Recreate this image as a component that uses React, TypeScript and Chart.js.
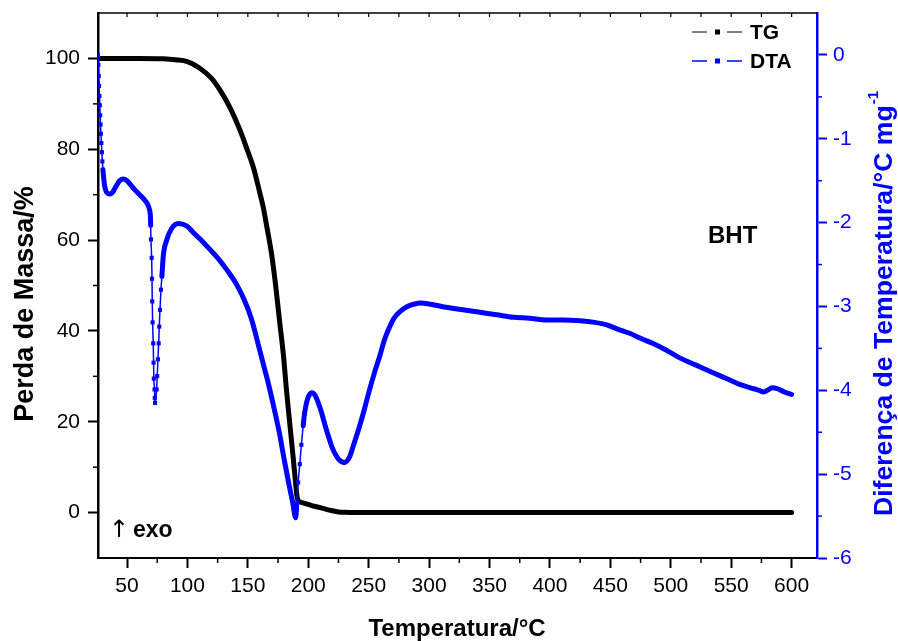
import React, { useEffect, useRef } from "react";
import { Chart, registerables } from "chart.js";

Chart.register(...registerables);

const FONT = '"Liberation Sans", Arial, Helvetica, sans-serif';
const BLUE = "#0000ff";
const BLACK = "#000000";

// TG curve: temperature (°C) and remaining mass (%)
const tgTemperature = [
  26, 40, 60, 80, 90, 100, 110, 120, 127, 135, 143.5, 150, 154.5, 160, 162.7, 166,
  169.6, 173, 176.5, 179.5, 182, 185, 187.5, 189.5, 190.8, 191.5, 195, 200, 205,
  209.6, 215, 220, 225, 230, 240, 300, 400, 500, 600,
];
const tgMass = [
  100, 100, 100, 99.9, 99.7, 99.3, 97.9, 95.6, 93, 89.3, 84.2, 79.5, 76.1, 70.3, 67.3,
  62.5, 57, 50, 41.6, 34.5, 26.9, 18.8, 12.2, 6.5, 3.4, 2.7, 2.2, 1.8, 1.4, 1.1, 0.7,
  0.4, 0.15, 0.05, 0, 0, 0, 0, 0,
];

// DTA curve: temperature (°C) and temperature difference (°C mg-1)
const dtaTemperature = [
  26, 26.3, 26.6, 26.9, 27.2, 27.5, 27.8, 28.1, 28.4, 28.8, 29.2, 29.6, 30.1, 30.7,
  31.5, 32.5, 34, 36, 38, 40, 42, 44, 47, 50, 53, 56, 60, 64, 67, 68.5, 69.3, 69.6,
  69.8, 70.4, 70.7, 70.9, 71.2, 71.7, 72.0, 72.2, 72.8, 73.0, 73.2, 74.5, 75.0, 75.6,
  76.2, 76.7, 77.3, 78.1, 78.9, 80.0, 82.8, 86.9, 92.4, 99.3, 105, 110, 118, 125, 133,
  140, 147, 153, 158, 163, 167, 171, 176, 180, 184, 187, 189.6, 190.5, 191.6, 193,
  194.3, 195.8, 197, 199.5, 203, 206, 210, 215, 220, 225, 230, 234, 238, 242, 246,
  250, 255, 259, 263, 267.5, 271, 276, 282, 288, 293, 300, 314, 328, 342, 356, 370,
  383, 397, 411, 425, 437, 447, 456, 466, 475, 485, 496, 507, 521, 535, 546, 557,
  566, 573, 577, 580, 584, 588, 594, 600,
];
const dtaSignal = [
  0.0, -0.12, -0.25, -0.37, -0.49, -0.6, -0.72, -0.83, -0.94, -1.05, -1.16, -1.27,
  -1.37, -1.47, -1.56, -1.62, -1.65, -1.66, -1.64, -1.59, -1.54, -1.5, -1.48, -1.5,
  -1.55, -1.6, -1.66, -1.72, -1.78, -1.84, -1.91, -2.03, -2.2, -2.42, -2.67, -2.94,
  -3.19, -3.44, -3.67, -3.86, -3.99, -4.09, -4.15, -3.99, -3.83, -3.63, -3.44, -3.24,
  -3.04, -2.8, -2.64, -2.4, -2.21, -2.07, -2.01, -2.04, -2.12, -2.19, -2.31, -2.42,
  -2.57, -2.72, -2.92, -3.15, -3.42, -3.7, -3.92, -4.17, -4.5, -4.82, -5.12, -5.33,
  -5.52, -5.35, -5.1, -4.88, -4.65, -4.42, -4.27, -4.1, -4.03, -4.07, -4.22, -4.47,
  -4.69, -4.82, -4.86, -4.8, -4.63, -4.45, -4.25, -4.03, -3.78, -3.6, -3.4, -3.24,
  -3.14, -3.06, -3.0, -2.97, -2.96, -2.97, -3.01, -3.04, -3.07, -3.1, -3.13, -3.14,
  -3.16, -3.16, -3.17, -3.19, -3.22, -3.27, -3.32, -3.38, -3.44, -3.52, -3.61, -3.7,
  -3.79, -3.86, -3.93, -3.97, -4.0, -4.02, -4.0, -3.97, -3.98, -4.02, -4.05,
];

// Axis ticks
const temperatureTicks = [50, 100, 150, 200, 250, 300, 350, 400, 450, 500, 550, 600];
const massTicks = [0, 20, 40, 60, 80, 100];
const dtaTicks = [-6, -5, -4, -3, -2, -1, 0];

// Temperature spans where the recorded DTA points are far apart
const dtaSparseSpans = [
  [26, 30.2],
  [69.5, 79],
  [190, 196],
];
const isSparse = (t: number) => dtaSparseSpans.some(([a, b]) => t >= a && t <= b);

const decorations = {
  id: "decorations",
  afterDraw(chart: any) {
    const { ctx, chartArea: a, scales } = chart;
    const sx = scales.x;
    const sy = scales.y;
    const sy1 = scales.y1;
    const seg = (x1: number, y1: number, x2: number, y2: number) => {
      ctx.beginPath();
      ctx.moveTo(x1, y1);
      ctx.lineTo(x2, y2);
      ctx.stroke();
    };
    ctx.save();

    // top frame with inward ticks
    ctx.strokeStyle = BLACK;
    ctx.lineWidth = 1.5;
    seg(a.left, a.top, a.right, a.top);
    ctx.lineWidth = 1.2;
    for (let v = 50; v <= 600; v += 25) {
      const px = sx.getPixelForValue(v);
      seg(px, a.top, px, a.top + 4);
    }
    // minor ticks on bottom and left
    ctx.lineWidth = 1.5;
    for (let v = 75; v < 600; v += 50) {
      const px = sx.getPixelForValue(v);
      seg(px, a.bottom, px, a.bottom + 5);
    }
    for (let v = 10; v <= 90; v += 20) {
      const py = sy.getPixelForValue(v);
      seg(a.left - 5, py, a.left, py);
    }
    // minor ticks on right (blue) axis
    ctx.strokeStyle = BLUE;
    for (let v = -5.5; v <= -0.5; v += 1) {
      const py = sy1.getPixelForValue(v);
      seg(a.right, py, a.right + 5, py);
    }

    // axis titles
    ctx.fillStyle = BLACK;
    ctx.font = `bold 24px ${FONT}`;
    ctx.textAlign = "center";
    ctx.textBaseline = "alphabetic";
    ctx.fillText("Temperatura/°C", 457, 636);

    ctx.save();
    ctx.translate(33, 304);
    ctx.rotate(-Math.PI / 2);
    ctx.font = `bold 27px ${FONT}`;
    ctx.textAlign = "center";
    ctx.fillText("Perda de Massa/%", 0, 0);
    ctx.restore();

    ctx.save();
    ctx.translate(892, 516);
    ctx.rotate(-Math.PI / 2);
    ctx.fillStyle = BLUE;
    ctx.font = `bold 26.6px ${FONT}`;
    ctx.textAlign = "left";
    const main = "Diferença de Temperatura/°C mg";
    ctx.fillText(main, 0, 0);
    const w = ctx.measureText(main).width;
    ctx.font = `bold 15px ${FONT}`;
    ctx.fillText("-1", w + 1, -14);
    ctx.restore();

    // legend
    const legendRow = (y: number, color: string, lw: number, label: string) => {
      ctx.strokeStyle = color;
      ctx.fillStyle = color;
      ctx.lineWidth = lw;
      seg(692, y, 707, y);
      seg(727, y, 742, y);
      ctx.fillRect(715, y - 2.5, 5, 5);
      ctx.fillStyle = BLACK;
      ctx.font = `bold 21px ${FONT}`;
      ctx.textAlign = "left";
      ctx.textBaseline = "middle";
      ctx.fillText(label, 750, y + 1);
    };
    legendRow(32, BLACK, 1, "TG");
    legendRow(61, BLUE, 1.5, "DTA");

    // annotations
    ctx.textBaseline = "alphabetic";
    ctx.textAlign = "left";
    ctx.fillStyle = BLACK;
    ctx.font = `bold 24px ${FONT}`;
    ctx.fillText("BHT", 708, 243);
    ctx.font = `24px "DejaVu Sans", ${FONT}`;
    ctx.fillText("↑", 109, 537);
    ctx.font = `bold 23px ${FONT}`;
    ctx.fillText("exo", 133, 537);

    ctx.restore();
  },
};

export default function App() {
  const canvasRef = useRef<HTMLCanvasElement | null>(null);

  useEffect(() => {
    const canvas = canvasRef.current;
    if (!canvas) return;

    const tgPoints = tgTemperature.map((t, i) => ({ x: t, y: tgMass[i] }));
    const dtaPoints = dtaTemperature.map((t, i) => ({ x: t, y: dtaSignal[i] }));

    const tickFont = { family: FONT, size: 21 };
    const noPad = (s: any) => {
      s.paddingTop = 0;
      s.paddingBottom = 0;
      s.paddingLeft = 0;
      s.paddingRight = 0;
    };

    const chart = new Chart(canvas, {
      type: "line",
      data: {
        datasets: [
          {
            label: "DTA",
            data: dtaPoints,
            yAxisID: "y1",
            order: 0,
            borderColor: BLUE,
            backgroundColor: BLUE,
            borderWidth: 5,
            borderJoinStyle: "round",
            borderCapStyle: "round",
            cubicInterpolationMode: "monotone",
            pointStyle: "rect",
            pointBorderWidth: 0,
            pointBackgroundColor: BLUE,
            pointRadius: (c: any) =>
              c.type === "data" && isSparse(dtaTemperature[c.dataIndex]) ? 2.9 : 0,
            segment: {
              borderWidth: (c: any) =>
                isSparse(dtaTemperature[c.p0DataIndex]) &&
                isSparse(dtaTemperature[c.p1DataIndex])
                  ? 1.5
                  : 5,
            },
          } as any,
          {
            label: "TG",
            data: tgPoints,
            yAxisID: "y",
            order: 1,
            borderColor: BLACK,
            backgroundColor: BLACK,
            borderWidth: 5,
            borderJoinStyle: "round",
            borderCapStyle: "round",
            cubicInterpolationMode: "monotone",
            pointRadius: 0,
          } as any,
        ],
      },
      options: {
        responsive: false,
        maintainAspectRatio: false,
        animation: false,
        layout: { padding: { top: 13, left: 0, right: 0, bottom: 0 } },
        plugins: {
          legend: { display: false },
          tooltip: { enabled: false },
          title: { display: false },
        },
        scales: {
          x: {
            type: "linear",
            position: "bottom",
            min: 26,
            max: 621,
            afterBuildTicks: (s: any) => {
              s.ticks = temperatureTicks.map((v) => ({ value: v }));
            },
            afterFit: (s: any) => {
              s.height = 83;
              noPad(s);
            },
            ticks: {
              autoSkip: false,
              maxRotation: 0,
              color: BLACK,
              font: tickFont,
              padding: 6,
            },
            grid: {
              display: true,
              drawOnChartArea: false,
              drawTicks: true,
              tickLength: 10,
              tickWidth: 2,
              tickColor: BLACK,
              color: BLACK,
            },
            border: { display: true, color: BLACK, width: 2 },
          },
          y: {
            type: "linear",
            position: "left",
            min: -10,
            max: 110,
            afterBuildTicks: (s: any) => {
              s.ticks = massTicks.map((v) => ({ value: v }));
            },
            afterFit: (s: any) => {
              s.width = 98;
              noPad(s);
            },
            ticks: { color: BLACK, font: tickFont, padding: 8 },
            grid: {
              display: true,
              drawOnChartArea: false,
              drawTicks: true,
              tickLength: 10,
              tickWidth: 2,
              tickColor: BLACK,
              color: BLACK,
            },
            border: { display: true, color: BLACK, width: 2.5 },
          },
          y1: {
            type: "linear",
            position: "right",
            min: -6,
            max: 0.5,
            afterBuildTicks: (s: any) => {
              s.ticks = dtaTicks.map((v) => ({ value: v }));
            },
            afterFit: (s: any) => {
              s.width = 81;
              noPad(s);
            },
            ticks: { color: BLUE, font: tickFont, padding: 6 },
            grid: {
              display: true,
              drawOnChartArea: false,
              drawTicks: true,
              tickLength: 10,
              tickWidth: 2,
              tickColor: BLUE,
              color: BLUE,
            },
            border: { display: true, color: BLUE, width: 2.5 },
          },
        },
      } as any,
      plugins: [decorations],
    });

    return () => {
      chart.destroy();
    };
  }, []);

  return (
    <div
      style={{
        position: "fixed",
        left: 0,
        top: 0,
        width: 898,
        height: 641,
        background: "#ffffff",
      }}
    >
      <canvas ref={canvasRef} width={898} height={641} style={{ display: "block" }} />
    </div>
  );
}
